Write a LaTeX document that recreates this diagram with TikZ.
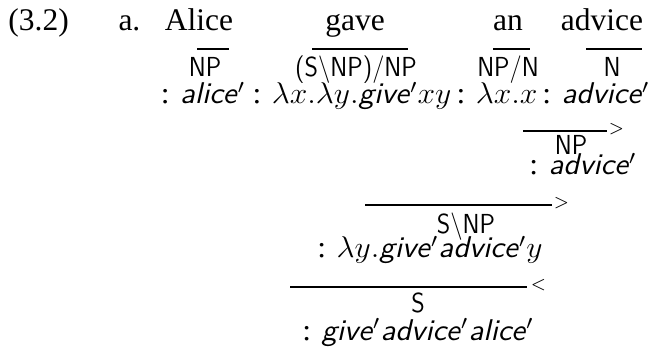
\documentclass[tikz,border=0pt]{standalone}
\usepackage{fontspec}
\setmainfont{Liberation Serif}

\newcommand{\semf}[1]{\textsf{\itshape #1}}
\newcommand{\bs}{$\backslash$}

\tikzset{
  word/.style={anchor=base, inner sep=0pt, font=\fontsize{12.6}{15}\selectfont},
  cat/.style={anchor=base, inner sep=0pt, xscale=0.9, font=\fontsize{11}{13}\selectfont\sffamily},
  sem/.style={anchor=base, inner sep=0pt, xscale=1.05, font=\fontsize{12}{14}\selectfont},
  rule/.style={line width=0.55pt},
  comb/.style={anchor=west, inner sep=0pt, font=\fontsize{7}{8}\selectfont}
}

\begin{document}
\begin{tikzpicture}[x=0.4pt, y=-0.4pt]
  \useasboundingbox (0,0) rectangle (670,351);
  % the sentence
  \node[word, anchor=base west] (ex) at (8,31) {(3.2)};
  \node[word, anchor=base west] (item) at (118,31) {a.};
  \foreach \n/\x/\w in {alice/199/Alice, gave/355/gave, an/508/an, advice/602/advice}
    \node[word] (w-\n) at (\x,31) {\w};
  % lexical entries
  \foreach \a/\b in {197/229, 312/408, 493/530, 586/642}
    \draw[rule] (\a,49) -- (\b,49);
  \node[cat] (c-alice) at (205,77) {NP};
  \node[cat] (c-gave) at (356,77) {(S\bs NP)/NP};
  \node[cat] (c-an) at (508,77) {NP/N};
  \node[cat] (c-advice) at (612,77) {N};
  \node[sem] (s-alice) at (203,104) {: \semf{alice}$'$};
  \node[sem] (s-gave) at (352,104) {: $\lambda x.\lambda y.$\semf{give}$'xy$};
  \node[sem] (s-an) at (497,104) {: $\lambda x.x$};
  \node[sem] (s-advice) at (596,104) {: \semf{advice}$'$};
  % an advice
  \draw[rule] (523,131) -- (607,131);
  \node[comb] at (608,129) {$>$};
  \node[cat] (c-obj) at (571,155) {NP};
  \node[sem] (s-obj) at (583,175) {: \semf{advice}$'$};
  % gave an advice
  \draw[rule] (365,205) -- (552,205);
  \node[comb] at (553,203) {$>$};
  \node[cat] (c-vp) at (466,233) {S\bs NP};
  \node[sem] (s-vp) at (430,258) {: $\lambda y.$\semf{give}$'$\semf{advice}$'y$};
  % whole sentence
  \draw[rule] (290,287) -- (527,287);
  \node[comb] at (530,285) {$<$};
  \node[cat] (c-sent) at (418,312) {S};
  \node[sem] (s-sent) at (418,340) {: \semf{give}$'$\semf{advice}$'$\semf{alice}$'$};
\end{tikzpicture}
\end{document}
